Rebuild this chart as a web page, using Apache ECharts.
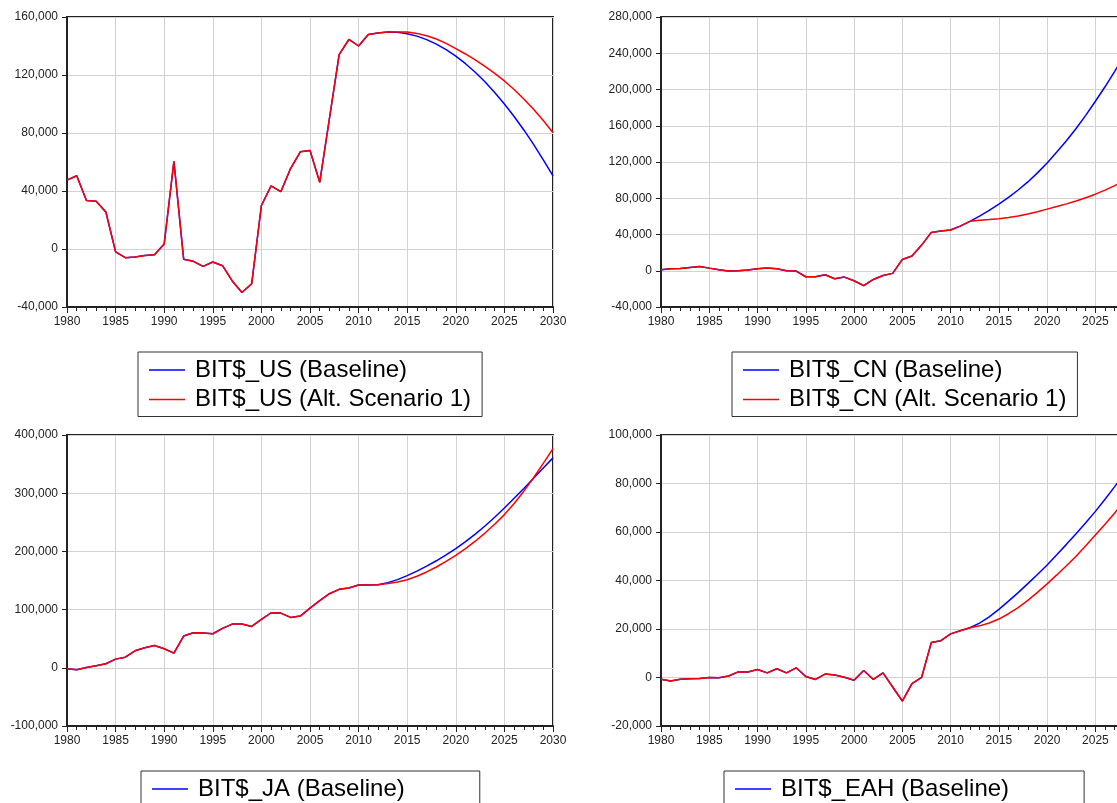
<!DOCTYPE html>
<html><head><meta charset="utf-8">
<script src="https://cdn.jsdelivr.net/npm/echarts@6/dist/echarts.min.js"></script>
<style>html,body{margin:0;padding:0;width:1117px;height:803px;overflow:hidden;background:#fff}#c{width:1160px;height:850px}</style>
</head><body><div id="c"></div>
<script>
const firstYear = 1980;
const forecastStart = 2013;

// Historical values 1980-2012 (shared by both scenarios)
const usHist = [47500, 50500, 33500, 33000, 25500, -2000, -6000, -5500, -4500, -4000, 3500, 60500, -7000, -8500, -12000, -9000, -11500, -22000, -30000, -24000, 30000, 43500, 39500, 55500, 67000, 68000, 46000, 90000, 134000, 144500, 140000, 148000, 149000];
const cnHist = [1000, 2200, 2500, 3700, 4800, 2900, 1100, -400, 0, 700, 2200, 2900, 2200, 0, -400, -6600, -6600, -4400, -8800, -7000, -11000, -16500, -9600, -5200, -2900, 12500, 16200, 28300, 42300, 43800, 44900, 49300, 54500];
const jaHist = [-1700, -3400, 600, 3400, 6900, 14900, 18300, 29200, 34400, 38400, 32700, 25200, 54500, 60200, 59600, 58500, 67700, 75100, 75100, 71100, 83100, 94600, 94000, 86600, 88900, 102600, 115300, 127300, 134800, 137000, 142200, 142200, 142800];
const eahHist = [-700, -1400, -700, -500, -400, 0, -100, 600, 2300, 2300, 3300, 1900, 3600, 1900, 4000, 400, -800, 1400, 1000, 100, -1100, 2900, -800, 1900, -3900, -9700, -2500, 100, 14400, 15200, 18000, 19300, 20500];

// Forecast values 2013-2030
const usBase = [149700, 149500, 148500, 146800, 144400, 141300, 137500, 133000, 127800, 121900, 115300, 108000, 100000, 91400, 82100, 72100, 61400, 50500];
const usAlt  = [149700, 149600, 149600, 148700, 147100, 144800, 141800, 138200, 134500, 130400, 125900, 121100, 115900, 110000, 103500, 96400, 88600, 80200];
const cnBase = [60300, 66600, 73500, 81000, 89100, 98000, 108000, 119000, 131000, 143500, 157000, 171500, 187000, 203000, 220000, 237500, 255500, 274000];
const cnAlt  = [55700, 56500, 57400, 58700, 60300, 62600, 65200, 68000, 70800, 73800, 77000, 80600, 84500, 89000, 94000, 99500, 105500, 112000];
const jaBase = [146300, 151500, 158300, 166000, 174600, 183900, 193900, 204700, 216700, 229700, 243700, 258700, 274700, 291200, 308200, 325700, 343200, 360700];
const jaAlt  = [144800, 147600, 151400, 157400, 164700, 173200, 182700, 193200, 204700, 217500, 231500, 246700, 263200, 282200, 303500, 326500, 351300, 376700];
const eahBase = [22400, 25000, 28100, 31500, 35000, 38700, 42500, 46400, 50600, 54900, 59300, 63800, 68500, 73500, 78700, 84000, 89500, 95000];
const eahAlt  = [21300, 22500, 24100, 26300, 28800, 31800, 35100, 38600, 42300, 46100, 50000, 54300, 58800, 63200, 67800, 72600, 77600, 82800];

// Axis settings (min, max, interval)
const usAxis = [-40000, 160000, 40000];
const cnAxis = [-40000, 280000, 40000];
const jaAxis = [-100000, 400000, 100000];
const eahAxis = [-20000, 100000, 20000];

const codes = ['US', 'CN', 'JA', 'EAH'];
const hists = [usHist, cnHist, jaHist, eahHist];
const bases = [usBase, cnBase, jaBase, eahBase];
const alts = [usAlt, cnAlt, jaAlt, eahAlt];
const axes = [usAxis, cnAxis, jaAxis, eahAxis];

function pairs(hist, fc) {
  return hist.map((v, i) => [firstYear + i, v]).concat(fc.map((v, i) => [forecastStart + i, v]));
}

const layout = [
  { left: 67, top: 17, height: 290, legLeft: 138, legTop: 352 },
  { left: 661, top: 17, height: 290, legLeft: 732, legTop: 352 },
  { left: 67, top: 435, height: 291, legLeft: 141, legTop: 771 },
  { left: 661, top: 435, height: 291, legLeft: 724, legTop: 771 }
];

const FONT = 'Liberation Sans, Arial, sans-serif';
const grid = [], xAxis = [], yAxis = [], series = [], legend = [];
codes.forEach((c, k) => {
  const L = layout[k];
  grid.push({ left: L.left, top: L.top, width: 486, height: L.height, show: true,
    borderColor: '#222', borderWidth: 2, backgroundColor: '#fff', containLabel: false });
  xAxis.push({ type: 'value', gridIndex: k, min: 1980, max: 2030, interval: 5,
    axisLine: { show: true, onZero: false, lineStyle: { color: '#222', width: 2 } },
    axisTick: { show: true, length: 6, lineStyle: { color: '#222', width: 1 } },
    minorTick: { show: true, splitNumber: 5, length: 4, lineStyle: { color: '#222', width: 1 } },
    axisLabel: { fontFamily: FONT, fontSize: 12, color: '#222', margin: 9, formatter: v => String(v) },
    splitLine: { show: true, lineStyle: { color: '#d2d2d2', width: 1 } } });
  const a = axes[k];
  yAxis.push({ type: 'value', gridIndex: k, min: a[0], max: a[1], interval: a[2],
    axisLine: { show: true, lineStyle: { color: '#222', width: 2 } },
    axisTick: { show: true, length: 5, lineStyle: { color: '#222', width: 1 } },
    axisLabel: { fontFamily: FONT, fontSize: 12, color: '#222', margin: 9 },
    splitLine: { show: true, lineStyle: { color: '#d2d2d2', width: 1 } } });
  const nb = 'BIT$_' + c + ' (Baseline)';
  const na = 'BIT$_' + c + ' (Alt. Scenario 1)';
  series.push({ name: nb, type: 'line', xAxisIndex: k, yAxisIndex: k, symbol: 'none',
    data: pairs(hists[k], bases[k]), lineStyle: { color: '#0000ff', width: 1.5 }, itemStyle: { color: '#0000ff' } });
  series.push({ name: na, type: 'line', xAxisIndex: k, yAxisIndex: k, symbol: 'none',
    data: pairs(hists[k], alts[k]), lineStyle: { color: '#ff0000', width: 1.5 }, itemStyle: { color: '#ff0000' } });
  legend.push({ data: [nb, na], orient: 'vertical', left: L.legLeft, top: L.legTop,
    icon: 'rect', padding: [5, 11, 4, 11], itemGap: 3.5, itemWidth: 36, itemHeight: 1.3,
    borderColor: '#333', borderWidth: 1, backgroundColor: '#fff', selectedMode: false,
    textStyle: { fontFamily: FONT, fontSize: 24, color: '#000', lineHeight: 26, padding: [0, 0, 0, 5] } });
});

const chart = echarts.init(document.getElementById('c'), null, { renderer: 'canvas' });
chart.setOption({ animation: false, backgroundColor: '#fff', grid, xAxis, yAxis, series, legend });
</script></body></html>
